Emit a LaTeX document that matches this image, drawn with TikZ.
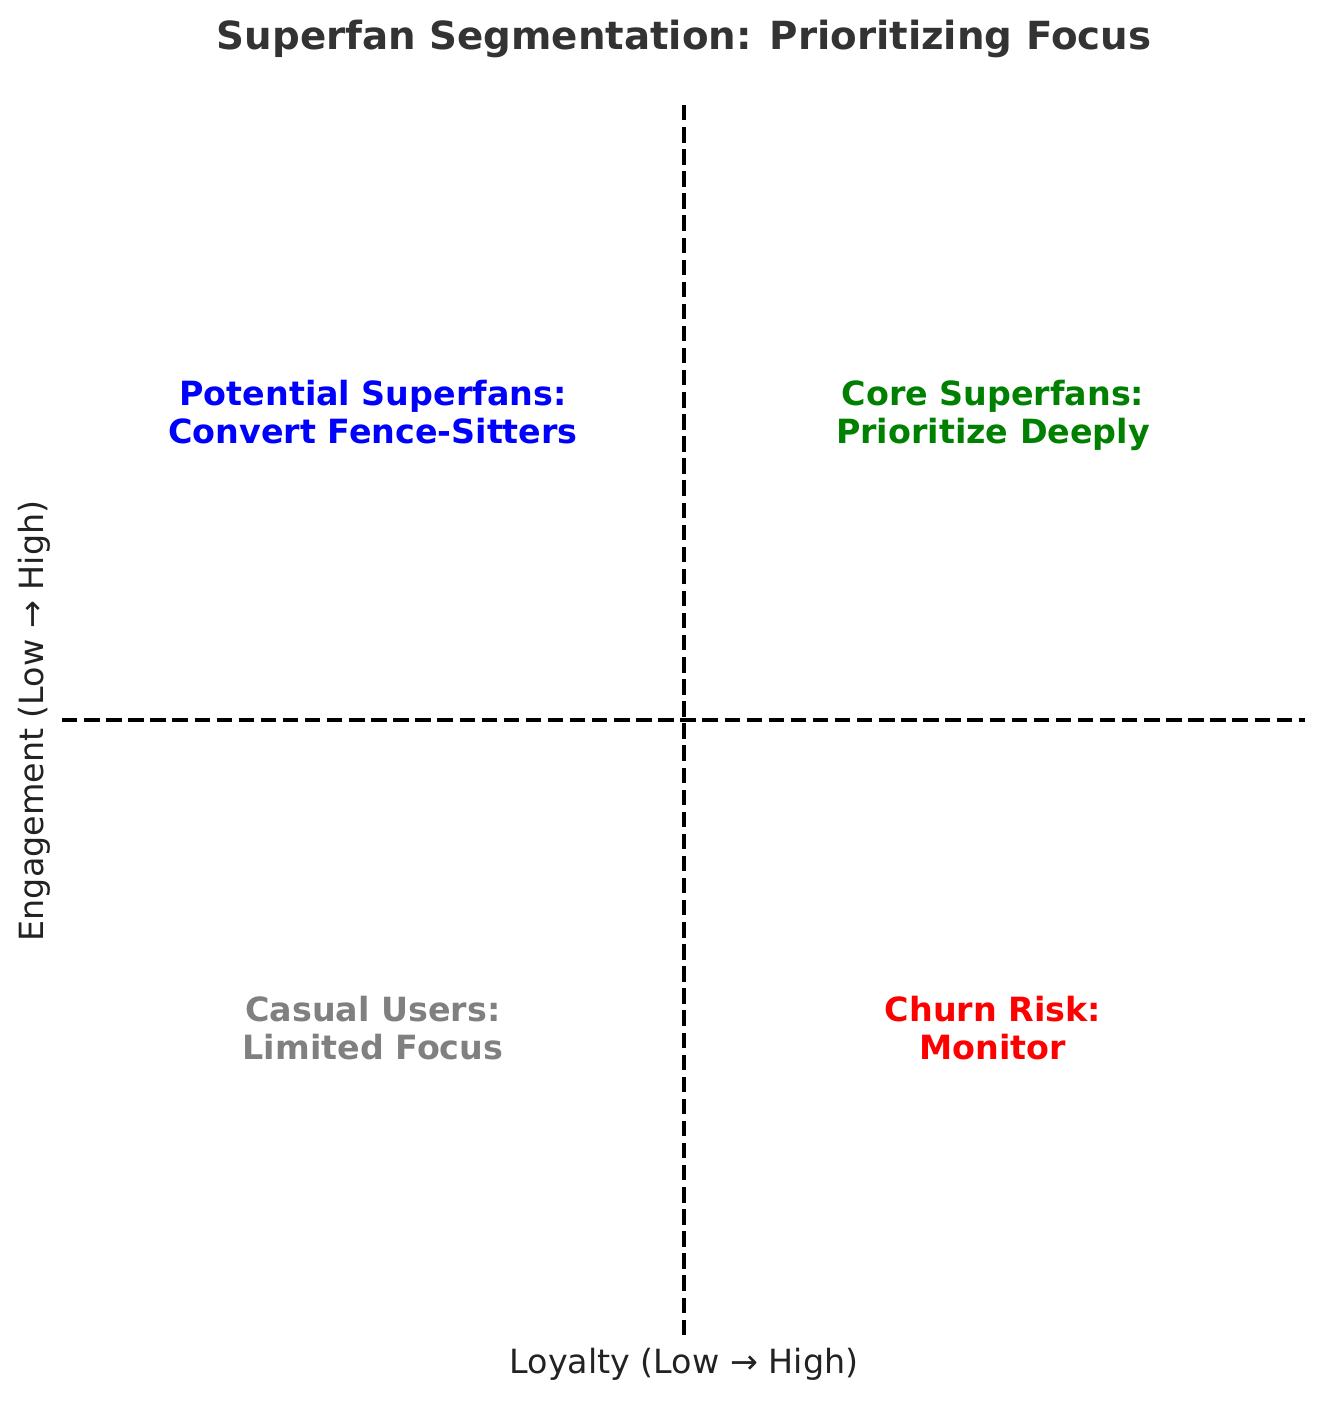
\documentclass[tikz,border=0pt]{standalone}
\usepackage{fontspec}
\setmainfont{DejaVu Sans}
\definecolor{titlegray}{HTML}{333333}
\definecolor{labelgray}{HTML}{222222}
\definecolor{mplgreen}{HTML}{008000}
\definecolor{mplgray}{HTML}{808080}
\begin{document}
\begin{tikzpicture}[
    x=0.36pt, y=-0.36pt,
    divider/.style={draw=black, line width=1.5pt, dash pattern=on 5.55pt off 2.4pt},
    quadrant/.style={align=center, inner sep=0pt, text depth=0pt, font=\fontsize{12}{13.8}\selectfont\bfseries},
    axislabel/.style={inner sep=0pt, text=labelgray, font=\fontsize{12}{14}\selectfont},
]
    \useasboundingbox (0,0) rectangle (1324,1401);

    % Title
    \node[inner sep=0pt, text=titlegray, font=\fontsize{13.95}{17}\selectfont\bfseries] (title) at (684,39) {Superfan Segmentation: Prioritizing Focus};

    % Dividers
    \coordinate (vtop) at (684,105);
    \coordinate (vbot) at (684,1338);
    \coordinate (hleft) at (62,720);
    \coordinate (hright) at (1305,720);
    \draw[divider] (vtop) -- (vbot);
    \draw[divider] (hleft) -- (hright);

    % Quadrant labels
    \node[quadrant, text=blue] (potential) at (373,412) {Potential Superfans:\\Convert Fence-Sitters};
    \node[quadrant, text=mplgreen] (core) at (993,412) {Core Superfans:\\Prioritize Deeply};
    \node[quadrant, text=mplgray] (casual) at (373,1028) {Casual Users:\\Limited Focus};
    \node[quadrant, text=red] (churn) at (993,1028) {Churn Risk:\\Monitor};

    % Axis labels
    \node[axislabel] (loyalty) at (684,1364) {Loyalty (Low → High)};
    \node[axislabel, rotate=90] (engagement) at (34,721) {Engagement (Low → High)};
\end{tikzpicture}
\end{document}
